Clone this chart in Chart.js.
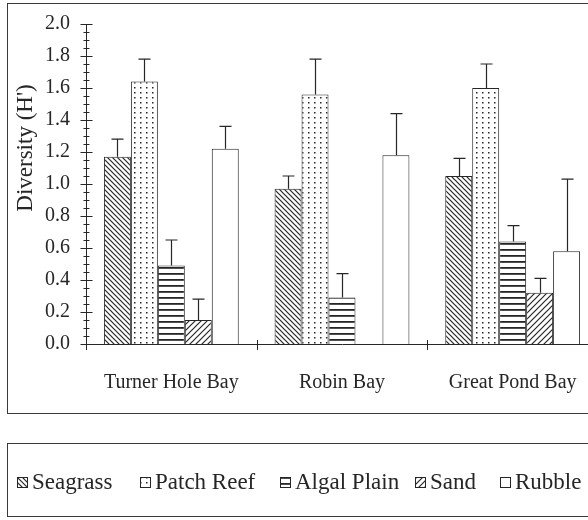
<!DOCTYPE html>
<html>
<head>
<meta charset="utf-8">
<script src="https://cdn.jsdelivr.net/npm/chart.js@4.4.1/dist/chart.umd.min.js"></script>
<style>
  html, body { margin: 0; padding: 0; background: #fff; overflow: hidden; }
  #wrap { width: 620px; height: 520px; }
</style>
</head>
<body>
<div id="wrap"><canvas id="diversity" width="620" height="520"></canvas></div>
<script>
// values
const categories = ['Turner Hole Bay', 'Robin Bay', 'Great Pond Bay']
const seriesNames = ['Seagrass', 'Patch Reef', 'Algal Plain', 'Sand', 'Rubble']
const seagrass = [1.17, 0.97, 1.05]
const seagrassErr = [0.11, 0.08, 0.11]
const patchReef = [1.64, 1.56, 1.60]
const patchReefErr = [0.14, 0.22, 0.15]
const algalPlain = [0.49, 0.29, 0.64]
const algalPlainErr = [0.16, 0.15, 0.10]
const sand = [0.15, null, 0.32]
const sandErr = [0.13, null, 0.09]
const rubble = [1.22, 1.18, 0.58]
const rubbleErr = [0.14, 0.26, 0.45]
const yTicks = [0, 0.2, 0.4, 0.6, 0.8, 1.0, 1.2, 1.4, 1.6, 1.8, 2.0]

const ink = '#262626'
const serif = '"Liberation Serif", "Times New Roman", serif'

// hatch fills
function makePattern(kind) {
    const c = document.createElement('canvas')
    const g = c.getContext('2d')
    if (kind === 'back') {            // "\\\\"
        c.width = 5; c.height = 5
        g.fillStyle = '#fff'; g.fillRect(0, 0, 5, 5)
        g.strokeStyle = ink; g.lineWidth = 1.2
        g.beginPath()
        g.moveTo(-1, -1); g.lineTo(6, 6)
        g.moveTo(-1, 4); g.lineTo(1, 6)
        g.moveTo(4, -1); g.lineTo(6, 1)
        g.stroke()
    } else if (kind === 'fwd') {      // "////"
        c.width = 6; c.height = 6
        g.fillStyle = '#fff'; g.fillRect(0, 0, 6, 6)
        g.strokeStyle = ink; g.lineWidth = 1.2
        g.beginPath()
        g.moveTo(-1, 7); g.lineTo(7, -1)
        g.moveTo(-1, 1); g.lineTo(1, -1)
        g.moveTo(5, 7); g.lineTo(7, 5)
        g.stroke()
    } else if (kind === 'dots') {
        c.width = 6; c.height = 5
        g.fillStyle = '#fff'; g.fillRect(0, 0, 6, 5)
        g.fillStyle = ink
        g.fillRect(2, 2, 1.5, 1.5)
    } else if (kind === 'hlines') {
        c.width = 6; c.height = 6
        g.fillStyle = '#fff'; g.fillRect(0, 0, 6, 6)
        g.fillStyle = ink
        g.fillRect(0, 3, 6, 1.8)
    } else {
        c.width = 2; c.height = 2
        g.fillStyle = '#fff'; g.fillRect(0, 0, 2, 2)
    }
    return g.createPattern(c, 'repeat')
}

const fills = [makePattern('back'), makePattern('dots'), makePattern('hlines'), makePattern('fwd'), makePattern('none')]
const values = [seagrass, patchReef, algalPlain, sand, rubble]
const errors = [seagrassErr, patchReefErr, algalPlainErr, sandErr, rubbleErr]

// boxes round the plot and the legend
const framePlugin = {
    id: 'frames',
    beforeDraw(chart) {
        const ctx = chart.ctx
        ctx.save()
        ctx.fillStyle = '#fff'
        ctx.fillRect(0, 0, chart.width, chart.height)
        ctx.strokeStyle = '#3a3a3a'
        ctx.lineWidth = 1
        ctx.strokeRect(7.5, 3.5, chart.width, 410)
        ctx.strokeRect(7.5, 443.5, chart.width, 73)
        ctx.restore()
    }
}

// upward error bars
const errorBarPlugin = {
    id: 'errorBars',
    afterDatasetsDraw(chart) {
        const ctx = chart.ctx
        const y = chart.scales.y
        ctx.save()
        ctx.strokeStyle = ink
        ctx.lineWidth = 1.2
        chart.data.datasets.forEach((ds, i) => {
            const meta = chart.getDatasetMeta(i)
            meta.data.forEach((bar, j) => {
                const v = ds.data[j]
                const e = errors[i][j]
                if (v == null || e == null) return
                const top = y.getPixelForValue(v + e)
                const x = Math.round(bar.x) + 0.5
                ctx.beginPath()
                ctx.moveTo(x, bar.y)
                ctx.lineTo(x, top)
                ctx.moveTo(x - 6, top)
                ctx.lineTo(x + 6, top)
                ctx.stroke()
            })
        })
        ctx.restore()
    }
}

// ruler ticks, y title, legend
const decorPlugin = {
    id: 'decor',
    afterDraw(chart) {
        const ctx = chart.ctx
        const y = chart.scales.y
        const x = chart.scales.x
        const area = chart.chartArea
        ctx.save()
        ctx.strokeStyle = ink
        ctx.lineWidth = 1
        ctx.beginPath()
        const ax = Math.round(area.left) + 0.5
        for (let k = 0; k <= 40; k++) {
            const py = Math.round(y.getPixelForValue(k * 0.05)) + 0.5
            const len = k % 4 === 0 ? 6 : 3
            ctx.moveTo(ax - len, py)
            ctx.lineTo(ax + len, py)
        }
        // category boundaries on x axis
        const bottom = Math.round(area.bottom)
        const step = x.getPixelForValue(1) - x.getPixelForValue(0)
        for (let i = 0; i < categories.length; i++) {
            const bx = Math.round(x.getPixelForValue(i) - step / 2) + 0.5
            ctx.moveTo(bx, bottom - 4)
            ctx.lineTo(bx, bottom + 6)
        }
        ctx.stroke()

        // y title
        ctx.fillStyle = ink
        ctx.font = '23px ' + serif
        ctx.textAlign = 'center'
        ctx.textBaseline = 'middle'
        ctx.translate(26, 148)
        ctx.rotate(-Math.PI / 2)
        ctx.fillText("Diversity (H')", 0, 0)
        ctx.restore()

        // legend
        ctx.save()
        const legendX = [17, 140, 280, 415, 500]
        const ly = 483
        ctx.font = '23px ' + serif
        ctx.textBaseline = 'middle'
        ctx.textAlign = 'left'
        chart.data.datasets.forEach((ds, i) => {
            const lx = legendX[i]
            ctx.fillStyle = ds.backgroundColor
            ctx.fillRect(lx, ly - 6, 11, 11)
            ctx.strokeStyle = ink
            ctx.lineWidth = 1
            ctx.strokeRect(lx + 0.5, ly - 5.5, 10, 10)
            ctx.fillStyle = ink
            ctx.fillText(ds.label, lx + 15, ly)
        })
        ctx.restore()
    }
}

const ctx = document.getElementById('diversity').getContext('2d')

const diversityChart = new Chart(ctx, {
    type: 'bar',
    data: {
        labels: categories,
        datasets: seriesNames.map((name, i) => ({
            label: name,
            data: values[i],
            backgroundColor: fills[i],
            borderColor: ink,
            borderWidth: 1,
            barPercentage: 1,
            categoryPercentage: 0.79
        }))
    },
    options: {
        responsive: false,
        animation: false,
        devicePixelRatio: 1,
        layout: { padding: { left: 0, top: 24, right: 22, bottom: 0 } },
        plugins: {
            legend: { display: false },
            tooltip: { enabled: false }
        },
        scales: {
            x: {
                grid: { display: false },
                border: { display: true, color: ink, width: 1 },
                ticks: {
                    color: ink,
                    font: { family: serif, size: 20 },
                    padding: 19,
                    maxRotation: 0,
                    autoSkip: false
                },
                afterFit: s => { s.height = 176 }
            },
            y: {
                min: 0,
                max: 2.0,
                grid: { display: false },
                border: { display: true, color: ink, width: 1 },
                afterBuildTicks: s => { s.ticks = yTicks.map(v => ({ value: v })) },
                ticks: {
                    color: ink,
                    font: { family: serif, size: 20 },
                    padding: 8,
                    callback: v => Number(v).toFixed(1)
                },
                afterFit: s => { s.width = 86 }
            }
        }
    },
    plugins: [framePlugin, errorBarPlugin, decorPlugin]
})
</script>
</body>
</html>
